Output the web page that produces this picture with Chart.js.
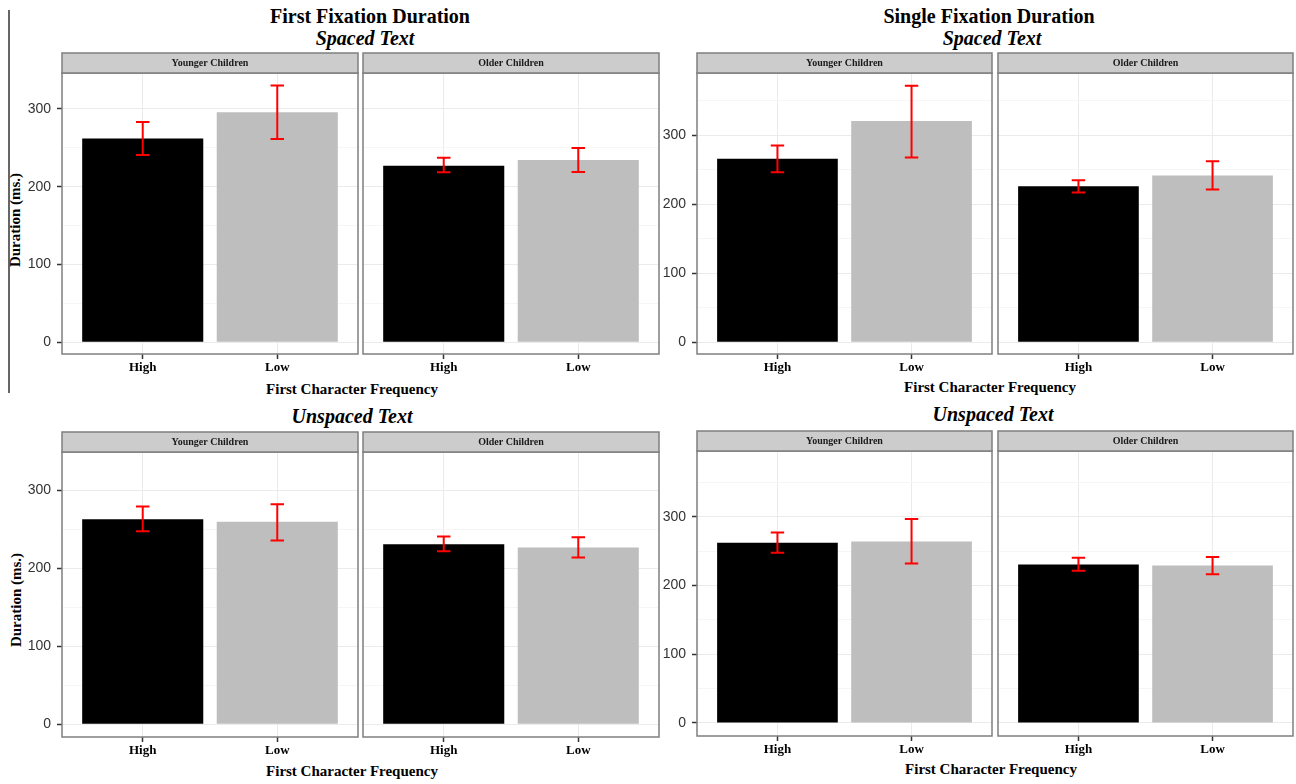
<!DOCTYPE html>
<html>
<head>
<meta charset="utf-8">
<script src="https://cdn.jsdelivr.net/npm/chart.js@4.4.0/dist/chart.umd.min.js"></script>
<style>
  body { margin: 0; background: #fff; width: 1296px; height: 784px; position: relative; overflow: hidden; font-family: "Liberation Serif", serif; }
  canvas { position: absolute; }
  .t { position: absolute; transform: translate(-50%, -50%); white-space: nowrap; font-weight: bold; color: #000; }
  .title { font-size: 20px; }
  .sub { font-size: 20px; font-style: italic; }
  .axt { font-size: 15px; }
  .yt { font-size: 15px; transform: translate(-50%, -50%) rotate(-90deg); }
  .rule { position: absolute; left: 8px; top: 10px; width: 1.5px; height: 383px; background: #666; }
</style>
</head>
<body>
<div class="rule"></div>
<div class="t title" style="left:370px;top:16px">First Fixation Duration</div>
<div class="t sub" style="left:365px;top:38px">Spaced Text</div>
<div class="t title" style="left:989px;top:16px">Single Fixation Duration</div>
<div class="t sub" style="left:992px;top:38px">Spaced Text</div>
<div class="t axt" style="left:352px;top:389px">First Character Frequency</div>
<div class="t axt" style="left:990px;top:387px">First Character Frequency</div>
<div class="t sub" style="left:352px;top:416px">Unspaced Text</div>
<div class="t sub" style="left:993px;top:414px">Unspaced Text</div>
<div class="t axt" style="left:352px;top:771px">First Character Frequency</div>
<div class="t axt" style="left:991px;top:769px">First Character Frequency</div>
<div class="t yt" style="left:15px;top:220px">Duration (ms.)</div>
<div class="t yt" style="left:16px;top:600px">Duration (ms.)</div>

<script>
// data
var categories = ["High", "Low"];
var groups = ["Younger Children", "Older Children"];
var yTicks = [0, 50, 100, 150, 200, 250, 300, 350];
var barColors = ["#000000", "#bebebe"];

// First Fixation Duration, spaced text
var ffdSpacedYoung = [261.7, 295.6], ffdSpacedYoungLo = [240.8, 261.3], ffdSpacedYoungHi = [283.0, 329.8];
var ffdSpacedOld = [227.0, 234.3], ffdSpacedOldLo = [218.5, 218.7], ffdSpacedOldHi = [237.0, 249.5];
// Single Fixation Duration, spaced text
var sfdSpacedYoung = [266.0, 320.8], sfdSpacedYoungLo = [246.7, 268.0], sfdSpacedYoungHi = [285.4, 372.0];
var sfdSpacedOld = [226.4, 241.8], sfdSpacedOldLo = [217.2, 221.5], sfdSpacedOldHi = [235.0, 262.7];
// First Fixation Duration, unspaced text
var ffdUnspacedYoung = [262.8, 259.3], ffdUnspacedYoungLo = [247.4, 235.3], ffdUnspacedYoungHi = [279.0, 282.0];
var ffdUnspacedOld = [230.7, 226.3], ffdUnspacedOldLo = [221.7, 213.5], ffdUnspacedOldHi = [240.5, 239.7];
// Single Fixation Duration, unspaced text
var sfdUnspacedYoung = [262.1, 264.0], sfdUnspacedYoungLo = [247.6, 232.0], sfdUnspacedYoungHi = [277.2, 296.6];
var sfdUnspacedOld = [230.7, 229.2], sfdUnspacedOldLo = [221.4, 216.5], sfdUnspacedOldHi = [240.3, 241.3];

// error bars + panel border + facet strip
var facetPlugin = {
  id: "facet",
  afterDatasetsDraw: function (chart, args, opts) {
    var ctx = chart.ctx, a = chart.chartArea, xs = chart.scales.x, ys = chart.scales.y;
    ctx.save();
    ctx.strokeStyle = "#ff0000";
    ctx.lineWidth = 2;
    opts.lo.forEach(function (lo, i) {
      var x = xs.getPixelForValue(i + 1);
      var w = xs.getPixelForValue(i + 1.05) - x;
      var y1 = ys.getPixelForValue(lo), y2 = ys.getPixelForValue(opts.hi[i]);
      ctx.beginPath();
      ctx.moveTo(x, y1); ctx.lineTo(x, y2);
      ctx.moveTo(x - w, y1); ctx.lineTo(x + w, y1);
      ctx.moveTo(x - w, y2); ctx.lineTo(x + w, y2);
      ctx.stroke();
    });
    ctx.strokeStyle = "#7f7f7f";
    ctx.lineWidth = 1.5;
    ctx.strokeRect(a.left, a.top, a.width, a.height);
    ctx.fillStyle = "#cccccc";
    ctx.fillRect(a.left, a.top - 20, a.width, 20);
    ctx.strokeRect(a.left, a.top - 20, a.width, 20);
    ctx.fillStyle = "#1a1a1a";
    ctx.font = 'bold 10px "Liberation Serif"';
    ctx.textAlign = "center";
    ctx.textBaseline = "middle";
    ctx.fillText(opts.strip, (a.left + a.right) / 2, a.top - 10);
    ctx.restore();
  }
};

function facet(left, stripTop, panelW, plotH, yr, withAxis, strip, means, lo, hi) {
  var axisW = withAxis ? 46 : 0;
  var cv = document.createElement("canvas");
  cv.width = axisW + panelW + 4;
  cv.height = 22 + plotH + 26;
  cv.style.left = (left - axisW - 2) + "px";
  cv.style.top = (stripTop - 2) + "px";
  document.body.appendChild(cv);

  return new Chart(cv.getContext("2d"), {
    type: "bar",
    data: {
      datasets: [{
        data: means.map(function (m, i) { return { x: i + 1, y: m }; }),
        backgroundColor: barColors,
        borderWidth: 0,
        categoryPercentage: 1,
        barPercentage: 0.9
      }]
    },
    options: {
      responsive: false,
      animation: false,
      layout: { padding: { top: 22, left: 2, right: 2, bottom: 0 } },
      plugins: {
        legend: { display: false },
        tooltip: { enabled: false },
        facet: { strip: strip, lo: lo, hi: hi }
      },
      scales: {
        x: {
          type: "linear", min: 0.4, max: 2.6, offset: false,
          afterBuildTicks: function (s) { s.ticks = [{ value: 1 }, { value: 2 }]; },
          afterFit: function (s) { s.height = 26; },
          ticks: {
            callback: function (v) { return categories[v - 1]; },
            font: { family: '"Liberation Serif"', size: 13, weight: "bold" },
            color: "#000", padding: 1, maxRotation: 0, autoSkip: false
          },
          grid: { offset: false, color: "#ebebeb", tickColor: "#333", tickLength: 5, tickWidth: 1.5 },
          border: { display: false }
        },
        y: {
          min: yr[0], max: yr[1],
          afterBuildTicks: function (s) {
            s.ticks = yTicks.filter(function (v) { return v >= s.min && v <= s.max; })
                            .map(function (v) { return { value: v }; });
          },
          afterFit: function (s) { s.width = axisW; },
          ticks: {
            display: withAxis,
            callback: function (v) { return v % 100 === 0 ? String(v) : ""; },
            font: { family: '"Liberation Sans"', size: 14 },
            color: "#333", padding: 6
          },
          grid: {
            color: function (c) { return c.tick && c.tick.value % 100 === 0 ? "#ebebeb" : "#f6f6f6"; },
            tickColor: function (c) { return c.tick && c.tick.value % 100 === 0 ? "#333" : "rgba(0,0,0,0)"; },
            drawTicks: withAxis, tickLength: 5, tickWidth: 1.5
          },
          border: { display: false }
        }
      }
    },
    plugins: [facetPlugin]
  });
}

// top left: First Fixation, spaced
facet(62, 53, 296, 281, [-15, 346], true, groups[0], ffdSpacedYoung, ffdSpacedYoungLo, ffdSpacedYoungHi);
facet(363, 53, 296, 281, [-15, 346], false, groups[1], ffdSpacedOld, ffdSpacedOldLo, ffdSpacedOldHi);
// top right: Single Fixation, spaced
facet(697, 53, 295, 281, [-17, 390.5], true, groups[0], sfdSpacedYoung, sfdSpacedYoungLo, sfdSpacedYoungHi);
facet(998, 53, 295, 281, [-17, 390.5], false, groups[1], sfdSpacedOld, sfdSpacedOldLo, sfdSpacedOldHi);
// bottom left: First Fixation, unspaced
facet(62, 432, 296, 285, [-16.3, 348.8], true, groups[0], ffdUnspacedYoung, ffdUnspacedYoungLo, ffdUnspacedYoungHi);
facet(363, 432, 296, 285, [-16.3, 348.8], false, groups[1], ffdUnspacedOld, ffdUnspacedOldLo, ffdUnspacedOldHi);
// bottom right: Single Fixation, unspaced
facet(697, 431, 295, 285, [-19, 395.7], true, groups[0], sfdUnspacedYoung, sfdUnspacedYoungLo, sfdUnspacedYoungHi);
facet(998, 431, 295, 285, [-19, 395.7], false, groups[1], sfdUnspacedOld, sfdUnspacedOldLo, sfdUnspacedOldHi);
</script>
</body>
</html>
